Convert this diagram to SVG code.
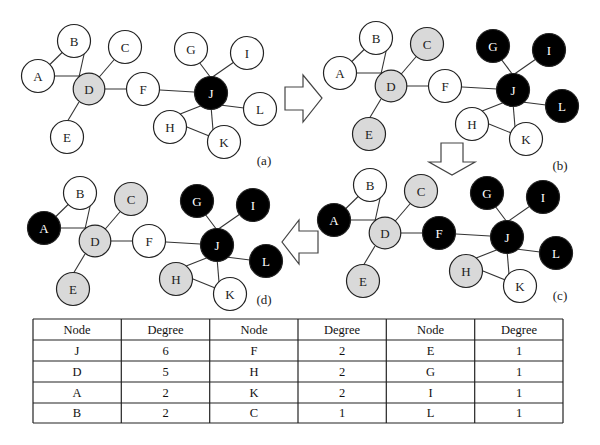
<svg xmlns="http://www.w3.org/2000/svg" width="600" height="445" viewBox="0 0 600 445">
<style>
.bg{fill:#fff}
.edges line{stroke:#333;stroke-width:1.1}
.node circle{stroke:#222;stroke-width:1.2}
.w circle{fill:#fff}
.g circle{fill:#d9d9d9}
.k circle{fill:#000}
.node text{font-family:"Liberation Serif","Times New Roman",serif;font-size:13px;text-anchor:middle;dominant-baseline:central;fill:#222}
.k text{fill:#fff}
.arrow{fill:#fff;stroke:#444;stroke-width:1.2;stroke-linejoin:miter}
.cap{font-family:"Liberation Serif","Times New Roman",serif;font-size:13px;text-anchor:middle;fill:#222}
.tbl line{stroke:#222;stroke-width:1.2}
.tbl text{font-family:"Liberation Serif","Times New Roman",serif;font-size:12.5px;text-anchor:middle;dominant-baseline:central;fill:#111}
</style>
<rect class="bg" x="0" y="0" width="600" height="445"/>

<g id="connectors">
<g class="edges" id="edges-a">
<line x1="38" y1="76" x2="74" y2="41"/>
<line x1="38" y1="76" x2="80" y2="76"/>
<line x1="85" y1="50" x2="79" y2="77"/>
<line x1="125" y1="47" x2="89" y2="89"/>
<line x1="79" y1="102" x2="67" y2="122"/>
<line x1="89" y1="89" x2="143" y2="89"/>
<line x1="143" y1="89" x2="211" y2="93"/>
<line x1="196" y1="58" x2="211" y2="78"/>
<line x1="247" y1="53" x2="211" y2="78"/>
<line x1="220" y1="105" x2="260" y2="110"/>
<line x1="203" y1="105" x2="170" y2="118"/>
<line x1="211" y1="106" x2="213" y2="130"/>
<line x1="182" y1="125" x2="224" y2="142"/>
</g>
<g class="edges" id="edges-b" transform="translate(302,-3)">
<line x1="38" y1="76" x2="74" y2="41"/>
<line x1="38" y1="76" x2="80" y2="76"/>
<line x1="85" y1="50" x2="79" y2="77"/>
<line x1="125" y1="47" x2="89" y2="89"/>
<line x1="79" y1="102" x2="67" y2="122"/>
<line x1="89" y1="89" x2="143" y2="89"/>
<line x1="143" y1="89" x2="211" y2="93"/>
<line x1="196" y1="58" x2="211" y2="78"/>
<line x1="247" y1="53" x2="211" y2="78"/>
<line x1="220" y1="105" x2="260" y2="110"/>
<line x1="203" y1="105" x2="170" y2="118"/>
<line x1="211" y1="106" x2="213" y2="130"/>
<line x1="182" y1="125" x2="224" y2="142"/>
</g>
<g class="edges" id="edges-c" transform="translate(296,144)">
<line x1="38" y1="76" x2="74" y2="41"/>
<line x1="38" y1="76" x2="80" y2="76"/>
<line x1="85" y1="50" x2="79" y2="77"/>
<line x1="125" y1="47" x2="89" y2="89"/>
<line x1="79" y1="102" x2="67" y2="122"/>
<line x1="89" y1="89" x2="143" y2="89"/>
<line x1="143" y1="89" x2="211" y2="93"/>
<line x1="196" y1="58" x2="211" y2="78"/>
<line x1="247" y1="53" x2="211" y2="78"/>
<line x1="220" y1="105" x2="260" y2="110"/>
<line x1="203" y1="105" x2="170" y2="118"/>
<line x1="211" y1="106" x2="213" y2="130"/>
<line x1="182" y1="125" x2="224" y2="142"/>
</g>
<g class="edges" id="edges-d" transform="translate(6,152)">
<line x1="38" y1="76" x2="74" y2="41"/>
<line x1="38" y1="76" x2="80" y2="76"/>
<line x1="85" y1="50" x2="79" y2="77"/>
<line x1="125" y1="47" x2="89" y2="89"/>
<line x1="79" y1="102" x2="67" y2="122"/>
<line x1="89" y1="89" x2="143" y2="89"/>
<line x1="143" y1="89" x2="211" y2="93"/>
<line x1="196" y1="58" x2="211" y2="78"/>
<line x1="247" y1="53" x2="211" y2="78"/>
<line x1="220" y1="105" x2="260" y2="110"/>
<line x1="203" y1="105" x2="170" y2="118"/>
<line x1="211" y1="106" x2="213" y2="130"/>
<line x1="182" y1="125" x2="224" y2="142"/>
</g>
</g>

<!-- Panel (a) -->
<g id="panel-a">
<g id="a-A" class="node w"><circle cx="38" cy="76" r="16.5"/><text x="38" y="76">A</text></g>
<g id="a-B" class="node w"><circle cx="74" cy="41" r="16.5"/><text x="74" y="41">B</text></g>
<g id="a-C" class="node w"><circle cx="125" cy="47" r="16.5"/><text x="125" y="47">C</text></g>
<g id="a-D" class="node g"><circle cx="89" cy="89" r="15.8"/><text x="89" y="89">D</text></g>
<g id="a-E" class="node w"><circle cx="67" cy="137" r="16.5"/><text x="67" y="137">E</text></g>
<g id="a-F" class="node w"><circle cx="143" cy="89" r="16.5"/><text x="143" y="89">F</text></g>
<g id="a-G" class="node w"><circle cx="191" cy="49" r="16.5"/><text x="191" y="49">G</text></g>
<g id="a-I" class="node w"><circle cx="247" cy="53" r="16.5"/><text x="247" y="53">I</text></g>
<g id="a-J" class="node k"><circle cx="211" cy="93" r="16.5"/><text x="211" y="93">J</text></g>
<g id="a-L" class="node w"><circle cx="260" cy="109" r="16.5"/><text x="260" y="109">L</text></g>
<g id="a-H" class="node w"><circle cx="170" cy="127" r="16.5"/><text x="170" y="127">H</text></g>
<g id="a-K" class="node w"><circle cx="224" cy="142" r="16.5"/><text x="224" y="142">K</text></g>
</g>

<!-- Panel (b) -->
<g id="panel-b" transform="translate(302,-3)">
<g id="b-A" class="node w"><circle cx="38" cy="76" r="16.5"/><text x="38" y="76">A</text></g>
<g id="b-B" class="node w"><circle cx="74" cy="41" r="16.5"/><text x="74" y="41">B</text></g>
<g id="b-C" class="node g"><circle cx="125" cy="47" r="16.5"/><text x="125" y="47">C</text></g>
<g id="b-D" class="node g"><circle cx="89" cy="89" r="15.8"/><text x="89" y="89">D</text></g>
<g id="b-E" class="node g"><circle cx="67" cy="137" r="16.5"/><text x="67" y="137">E</text></g>
<g id="b-F" class="node w"><circle cx="143" cy="89" r="16.5"/><text x="143" y="89">F</text></g>
<g id="b-G" class="node k"><circle cx="191" cy="49" r="16.5"/><text x="191" y="49">G</text></g>
<g id="b-I" class="node k"><circle cx="247" cy="53" r="16.5"/><text x="247" y="53">I</text></g>
<g id="b-J" class="node k"><circle cx="211" cy="93" r="16.5"/><text x="211" y="93">J</text></g>
<g id="b-L" class="node k"><circle cx="260" cy="109" r="16.5"/><text x="260" y="109">L</text></g>
<g id="b-H" class="node w"><circle cx="170" cy="127" r="16.5"/><text x="170" y="127">H</text></g>
<g id="b-K" class="node w"><circle cx="224" cy="142" r="16.5"/><text x="224" y="142">K</text></g>
</g>

<!-- Panel (c) -->
<g id="panel-c" transform="translate(296,144)">
<g id="c-A" class="node k"><circle cx="38" cy="76" r="16.5"/><text x="38" y="76">A</text></g>
<g id="c-B" class="node w"><circle cx="74" cy="41" r="16.5"/><text x="74" y="41">B</text></g>
<g id="c-C" class="node g"><circle cx="125" cy="47" r="16.5"/><text x="125" y="47">C</text></g>
<g id="c-D" class="node g"><circle cx="89" cy="89" r="15.8"/><text x="89" y="89">D</text></g>
<g id="c-E" class="node g"><circle cx="67" cy="137" r="16.5"/><text x="67" y="137">E</text></g>
<g id="c-F" class="node k"><circle cx="143" cy="89" r="16.5"/><text x="143" y="89">F</text></g>
<g id="c-G" class="node k"><circle cx="191" cy="49" r="16.5"/><text x="191" y="49">G</text></g>
<g id="c-I" class="node k"><circle cx="247" cy="53" r="16.5"/><text x="247" y="53">I</text></g>
<g id="c-J" class="node k"><circle cx="211" cy="93" r="16.5"/><text x="211" y="93">J</text></g>
<g id="c-L" class="node k"><circle cx="260" cy="109" r="16.5"/><text x="260" y="109">L</text></g>
<g id="c-H" class="node g"><circle cx="170" cy="127" r="16.5"/><text x="170" y="127">H</text></g>
<g id="c-K" class="node w"><circle cx="224" cy="142" r="16.5"/><text x="224" y="142">K</text></g>
</g>

<!-- Panel (d) -->
<g id="panel-d" transform="translate(6,152)">
<g id="d-A" class="node k"><circle cx="38" cy="76" r="16.5"/><text x="38" y="76">A</text></g>
<g id="d-B" class="node w"><circle cx="74" cy="41" r="16.5"/><text x="74" y="41">B</text></g>
<g id="d-C" class="node g"><circle cx="125" cy="47" r="16.5"/><text x="125" y="47">C</text></g>
<g id="d-D" class="node g"><circle cx="89" cy="89" r="15.8"/><text x="89" y="89">D</text></g>
<g id="d-E" class="node g"><circle cx="67" cy="137" r="16.5"/><text x="67" y="137">E</text></g>
<g id="d-F" class="node w"><circle cx="143" cy="89" r="16.5"/><text x="143" y="89">F</text></g>
<g id="d-G" class="node k"><circle cx="191" cy="49" r="16.5"/><text x="191" y="49">G</text></g>
<g id="d-I" class="node k"><circle cx="247" cy="53" r="16.5"/><text x="247" y="53">I</text></g>
<g id="d-J" class="node k"><circle cx="211" cy="93" r="16.5"/><text x="211" y="93">J</text></g>
<g id="d-L" class="node k"><circle cx="260" cy="109" r="16.5"/><text x="260" y="109">L</text></g>
<g id="d-H" class="node g"><circle cx="170" cy="127" r="16.5"/><text x="170" y="127">H</text></g>
<g id="d-K" class="node w"><circle cx="224" cy="142" r="16.5"/><text x="224" y="142">K</text></g>
</g>

<!-- Panel captions -->
<text class="cap" x="264" y="164.5">(a)</text>
<text class="cap" x="560" y="169.5">(b)</text>
<text class="cap" x="560" y="299.5">(c)</text>
<text class="cap" x="264" y="304">(d)</text>

<!-- Step arrows -->
<g id="arrows">
<polygon class="arrow" points="285,87 303,87 303,75 322,98 303,122 303,110 285,110"/>
<polygon class="arrow" points="441,143 463,143 463,162 475,162 452,175 429,162 441,162"/>
<polygon class="arrow" points="318,231 299,231 299,220 282,242 299,264 299,253 318,253"/>
</g>

<!-- Degree table -->
<g id="table" class="tbl">
<line x1="33" y1="319" x2="563" y2="319"/>
<line x1="33" y1="340" x2="563" y2="340"/>
<line x1="33" y1="361" x2="563" y2="361"/>
<line x1="33" y1="382" x2="563" y2="382"/>
<line x1="33" y1="403" x2="563" y2="403"/>
<line x1="33" y1="423" x2="563" y2="423"/>
<line x1="33" y1="319" x2="33" y2="423"/>
<line x1="121.3" y1="319" x2="121.3" y2="423"/>
<line x1="209.7" y1="319" x2="209.7" y2="423"/>
<line x1="298" y1="319" x2="298" y2="423"/>
<line x1="386.3" y1="319" x2="386.3" y2="423"/>
<line x1="474.7" y1="319" x2="474.7" y2="423"/>
<line x1="563" y1="319" x2="563" y2="423"/>
<text x="77" y="329.5">Node</text><text x="165.5" y="329.5">Degree</text><text x="254" y="329.5">Node</text><text x="342" y="329.5">Degree</text><text x="430.5" y="329.5">Node</text><text x="519" y="329.5">Degree</text>
<text x="77" y="350.5">J</text><text x="165.5" y="350.5">6</text><text x="254" y="350.5">F</text><text x="342" y="350.5">2</text><text x="430.5" y="350.5">E</text><text x="519" y="350.5">1</text>
<text x="77" y="371.5">D</text><text x="165.5" y="371.5">5</text><text x="254" y="371.5">H</text><text x="342" y="371.5">2</text><text x="430.5" y="371.5">G</text><text x="519" y="371.5">1</text>
<text x="77" y="392.5">A</text><text x="165.5" y="392.5">2</text><text x="254" y="392.5">K</text><text x="342" y="392.5">2</text><text x="430.5" y="392.5">I</text><text x="519" y="392.5">1</text>
<text x="77" y="413">B</text><text x="165.5" y="413">2</text><text x="254" y="413">C</text><text x="342" y="413">1</text><text x="430.5" y="413">L</text><text x="519" y="413">1</text>
</g>
</svg>
